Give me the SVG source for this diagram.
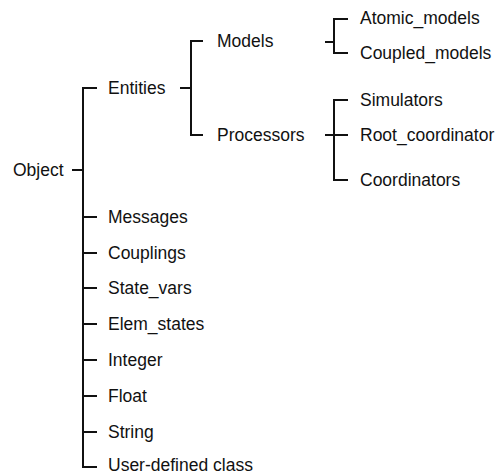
<svg xmlns="http://www.w3.org/2000/svg" width="503" height="475" viewBox="0 0 503 475">
<style>
text{font-family:"Liberation Sans",Arial,Helvetica,sans-serif;font-size:17.5px;fill:#111}
.c{stroke:#111;stroke-width:2;fill:none}
</style>
<rect width="503" height="475" fill="#fff"/>
<g id="connectors">
<path class="c" d="M72 170H83M97 88H83V467H97M83 217H97M83 253H97M83 288H97M83 324H97M83 360H97M83 396H97M83 432H97"/>
<path class="c" d="M180 88H191M203 41H191V135H203"/>
<path class="c" d="M325 42H334M348 19H334V53H348"/>
<path class="c" d="M325 135H348M348 100H334V180H348"/>
</g>
<g id="object"><text x="13" y="176">Object</text></g>
<g id="entities"><text x="108" y="94">Entities</text></g>
<g id="models"><text x="217" y="47">Models</text></g>
<g id="processors"><text x="217" y="141">Processors</text></g>
<g id="atomic"><text x="360" y="24">Atomic_models</text></g>
<g id="coupled"><text x="360" y="59">Coupled_models</text></g>
<g id="simulators"><text x="360" y="106">Simulators</text></g>
<g id="root"><text x="360" y="141">Root_coordinator</text></g>
<g id="coordinators"><text x="360" y="186">Coordinators</text></g>
<g id="messages"><text x="108" y="223">Messages</text></g>
<g id="couplings"><text x="108" y="259">Couplings</text></g>
<g id="statevars"><text x="108" y="294">State_vars</text></g>
<g id="elemstates"><text x="108" y="330">Elem_states</text></g>
<g id="integer"><text x="108" y="366">Integer</text></g>
<g id="float"><text x="108" y="402">Float</text></g>
<g id="string"><text x="108" y="438">String</text></g>
<g id="userdef"><text x="108" y="471">User-defined class</text></g>
</svg>
